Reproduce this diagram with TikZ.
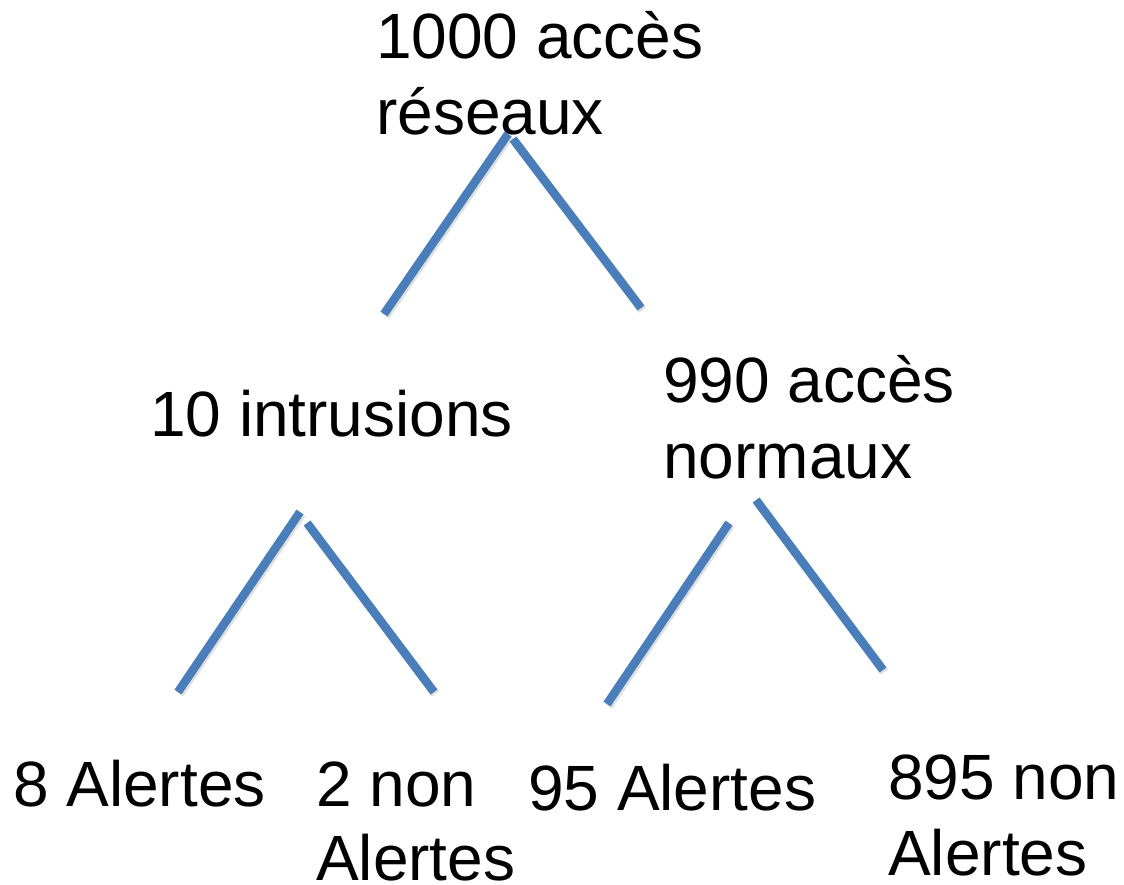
\documentclass[tikz,border=0pt]{standalone}
\usepackage{fontspec}
\setmainfont{Liberation Sans}
\definecolor{branch}{HTML}{4A7EBB}
\begin{document}
\begin{tikzpicture}[x=1pt,y=-1pt,
  lbl/.style={anchor=base west,inner sep=0pt,font=\fontsize{64}{76}\selectfont},
  branchline/.style={draw=branch,line width=8.5pt},
  shadowline/.style={draw=black,opacity=0.12,line width=9pt}]
\useasboundingbox (0,0) rectangle (1124,885);
% labels
\node[lbl] (root1) at (376,59) {1000 accès};
\node[lbl] (root2) at (376,135) {réseaux};
\node[lbl] (intr) at (150,436) {10 intrusions};
\node[lbl] (norm1) at (663,402) {990 accès};
\node[lbl] (norm2) at (663,478) {normaux};
\node[lbl] (a8) at (13,806) {8 Alertes};
\node[lbl] (n2a) at (316,806) {2 non};
\node[lbl] (n2b) at (316,880) {Alertes};
\node[lbl] (a95) at (528,810) {95 Alertes};
\node[lbl] (n895a) at (888,799) {895 non};
\node[lbl] (n895b) at (888,875) {Alertes};
% branch end points
\coordinate (r1) at (508,134);  \coordinate (r1e) at (384,314);
\coordinate (r2) at (513,139);  \coordinate (r2e) at (641,308);
\coordinate (i1) at (300,512);  \coordinate (i1e) at (178,692);
\coordinate (i2) at (307,523);  \coordinate (i2e) at (434,692);
\coordinate (m1) at (729,523);  \coordinate (m1e) at (607,704);
\coordinate (m2) at (756,500);  \coordinate (m2e) at (883,670);
% shadows
\foreach \a/\b in {r1/r1e,r2/r2e,i1/i1e,i2/i2e,m1/m1e,m2/m2e}
  \draw[shadowline,transform canvas={xshift=1.5pt,yshift=-2pt}] (\a) -- (\b);
% branches
\draw[branchline] (r1) -- (r1e);
\draw[branchline] (r2) -- (r2e);
\draw[branchline] (i1) -- (i1e);
\draw[branchline] (i2) -- (i2e);
\draw[branchline] (m1) -- (m1e);
\draw[branchline] (m2) -- (m2e);
\end{tikzpicture}
\end{document}
